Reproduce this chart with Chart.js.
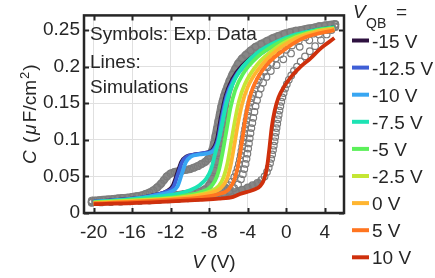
<!DOCTYPE html>
<html>
<head>
<meta charset="utf-8">
<script src="https://cdn.jsdelivr.net/npm/chart.js@4.4.1/dist/chart.umd.min.js"></script>
<style>
  html, body { margin: 0; padding: 0; background: #fff; }
  #wrap { width: 435px; height: 278px; }
</style>
</head>
<body>
<div id="wrap"><canvas id="cvChart"></canvas></div>
<script>
// tick values and labels
const xTicks = [-20, -16, -12, -8, -4, 0, 4];
const yTicks = [0, 0.05, 0.1, 0.15, 0.2, 0.25];
const yTickLabels = ['0', '0.05', '0.1', '0.15', '0.2', '0.25'];

// legend (V_QB values) and line colours
const vqbLabels = ['-15 V', '-12.5 V', '-10 V', '-7.5 V', '-5 V', '-2.5 V', '0 V', '5 V', '10 V'];
const vqbColors = ['#2e1140', '#3f5fd6', '#38a6f2', '#1de3b4', '#5cf05a', '#c4e634', '#ffb530', '#ff7520', '#cf300c'];

// simulations, [V, C]
const sim_m15 = [[-20,0.0155],[-17.5,0.018],[-15,0.021],[-13.5,0.025],[-12.4,0.03],[-11.8,0.037],[-11.3,0.055],[-10.9,0.07],[-10.4,0.077],[-9.5,0.08],[-8.5,0.082],[-7.7,0.086],[-7.2,0.1],[-6.8,0.13],[-6.3,0.16],[-5.6,0.183],[-4.6,0.201],[-2.2,0.225],[0,0.238],[2,0.247],[5,0.254]];
const sim_m12p5 = [[-20,0.0155],[-17.5,0.018],[-15,0.021],[-13.5,0.025],[-12.3,0.03],[-11.7,0.036],[-11.2,0.055],[-10.8,0.07],[-10.3,0.077],[-9.5,0.08],[-8.5,0.082],[-7.6,0.086],[-7.1,0.1],[-6.7,0.13],[-6.2,0.16],[-5.5,0.182],[-4.5,0.2],[-2,0.224],[0,0.237],[2,0.247],[5,0.253]];
const sim_m10 = [[-20,0.0155],[-17,0.018],[-15,0.021],[-13.2,0.025],[-12,0.029],[-11.3,0.036],[-10.8,0.055],[-10.4,0.07],[-9.9,0.077],[-9,0.08],[-8,0.082],[-7.4,0.087],[-7.0,0.1],[-6.6,0.13],[-6.1,0.16],[-5.4,0.182],[-4.4,0.2],[-2,0.223],[0,0.236],[2,0.246],[5,0.253]];
const sim_m7p5 = [[-20,0.015],[-16,0.019],[-13,0.023],[-11,0.027],[-10,0.031],[-9,0.038],[-8.3,0.047],[-7.8,0.06],[-7.4,0.08],[-7.0,0.1],[-6.6,0.125],[-6.2,0.15],[-5.6,0.175],[-4.8,0.195],[-3,0.219],[-1,0.234],[1,0.244],[3,0.25],[5,0.254]];
const sim_m5 = [[-20,0.0145],[-16,0.0175],[-12,0.021],[-10,0.025],[-9,0.028],[-8,0.034],[-7.4,0.044],[-7,0.058],[-6.6,0.083],[-6.2,0.113],[-5.8,0.143],[-5.3,0.168],[-4.5,0.19],[-3,0.213],[-1,0.231],[1,0.242],[3,0.249],[5,0.253]];
const sim_m2p5 = [[-20,0.014],[-16,0.017],[-12,0.02],[-10,0.023],[-8,0.029],[-7,0.037],[-6.5,0.049],[-6.1,0.068],[-5.7,0.098],[-5.3,0.128],[-4.9,0.153],[-4.3,0.176],[-3,0.203],[-1,0.226],[1,0.24],[3,0.248],[5,0.252]];
const sim_0 = [[-20,0.0135],[-16,0.016],[-12,0.019],[-10,0.022],[-8,0.027],[-6.8,0.034],[-6.2,0.045],[-5.8,0.063],[-5.4,0.092],[-5.0,0.123],[-4.6,0.148],[-4.0,0.172],[-2.8,0.198],[-1,0.222],[1,0.238],[3,0.247],[5,0.252]];
const sim_5 = [[-20,0.013],[-16,0.015],[-12,0.018],[-9,0.021],[-7,0.026],[-6,0.032],[-5.4,0.045],[-5,0.065],[-4.6,0.097],[-4.2,0.132],[-3.7,0.162],[-3,0.184],[-2,0.203],[0,0.225],[2,0.24],[5,0.25]];
const sim_10 = [[-20,0.012],[-16,0.0135],[-12,0.016],[-9,0.018],[-7,0.0195],[-5.5,0.022],[-4.8,0.026],[-4,0.029],[-3.3,0.032],[-2.7,0.037],[-2.3,0.046],[-2.0,0.062],[-1.75,0.088],[-1.5,0.118],[-1.2,0.14],[-0.8,0.158],[-0.2,0.173],[0.5,0.186],[1.5,0.2],[2.5,0.211],[3.5,0.224],[5,0.239]];
const simSeries = [sim_m15, sim_m12p5, sim_m10, sim_m7p5, sim_m5, sim_m2p5, sim_0, sim_5, sim_10];

// experimental data (symbols), [V, C]
const exp_a = [[-20.2,0.017],[-19.8,0.017],[-19.4,0.0175],[-19,0.018],[-18.5,0.0185],[-18,0.019],[-17.5,0.02],[-17,0.0205],[-16.5,0.021],[-16,0.022],[-15.5,0.023],[-15,0.024],[-14.6,0.026],[-14.2,0.028],[-13.8,0.031],[-13.4,0.035],[-13.0,0.04],[-12.7,0.045],[-12.4,0.05],[-12.0,0.054],[-11.6,0.056],[-11.2,0.057],[-10.8,0.058],[-10.4,0.059],[-10.0,0.06],[-9.6,0.062],[-9.2,0.064],[-8.8,0.067],[-8.4,0.07],[-8.1,0.074],[-7.9,0.078],[-7.7,0.085],[-7.5,0.095],[-7.35,0.105],[-7.2,0.115],[-7.05,0.125],[-6.9,0.135],[-6.75,0.145],[-6.6,0.153],[-6.45,0.16],[-6.3,0.166],[-6.1,0.173],[-5.9,0.18],[-5.6,0.189],[-5.3,0.197],[-5.0,0.204],[-4.6,0.211],[-4.2,0.216],[-3.7,0.222],[-3.2,0.227],[-2.6,0.231],[-2,0.235],[-1.4,0.239],[-0.8,0.242],[-0.2,0.245],[0.4,0.247],[1,0.249],[1.6,0.25],[2.2,0.252],[2.8,0.253],[3.4,0.255],[4,0.256],[4.6,0.257],[5.1,0.258]];
const exp_b = [[-20.2,0.0155],[-19.4,0.016],[-18.6,0.0165],[-17.8,0.017],[-17,0.0178],[-16.2,0.0185],[-15.4,0.0195],[-14.6,0.0205],[-13.8,0.0215],[-13,0.0225],[-12.2,0.0235],[-11.4,0.0245],[-10.6,0.026],[-9.8,0.0275],[-9.1,0.029],[-8.5,0.032],[-8,0.038],[-7.7,0.047],[-7.45,0.058],[-7.25,0.07],[-7.1,0.082],[-6.95,0.095],[-6.8,0.108],[-6.65,0.121],[-6.5,0.134],[-6.35,0.147],[-6.15,0.16],[-5.9,0.172],[-5.6,0.183],[-5.2,0.194],[-4.7,0.204],[-4.1,0.213],[-3.4,0.221],[-2.6,0.228],[-1.7,0.235],[-0.8,0.24],[0.2,0.245],[1.3,0.249],[2.4,0.252],[3.5,0.255],[4.4,0.257],[5.1,0.258]];
const exp_c = [[-20.2,0.0155],[-19.6,0.016],[-19,0.0165],[-18.3,0.017],[-17.6,0.0175],[-16.9,0.018],[-16.2,0.0185],[-15.5,0.019],[-14.8,0.0195],[-14.1,0.02],[-13.4,0.0205],[-12.7,0.021],[-12,0.0215],[-11.3,0.022],[-10.6,0.023],[-9.9,0.024],[-9.2,0.025],[-8.5,0.026],[-7.8,0.0275],[-7.2,0.029],[-6.7,0.031],[-6.3,0.034],[-5.95,0.038],[-5.65,0.043],[-5.4,0.049],[-5.2,0.055],[-5.05,0.061],[-4.92,0.067],[-4.82,0.073],[-4.73,0.079],[-4.65,0.085],[-4.57,0.091],[-4.5,0.097],[-4.43,0.103],[-4.36,0.109],[-4.28,0.115],[-4.2,0.121],[-4.12,0.127],[-4.03,0.133],[-3.94,0.139],[-3.84,0.145],[-3.73,0.151],[-3.6,0.157],[-3.45,0.163],[-3.28,0.169],[-3.08,0.175],[-2.85,0.181],[-2.6,0.187],[-2.3,0.193],[-1.95,0.199],[-1.55,0.205],[-1.1,0.211],[-0.6,0.217],[0,0.223],[0.6,0.229],[1.3,0.235],[2,0.24],[2.8,0.245],[3.6,0.25],[4.4,0.254],[5.1,0.257]];
const exp_d = [[-20.2,0.0145],[-19.2,0.015],[-18.2,0.0155],[-17.2,0.016],[-16.2,0.0165],[-15.2,0.017],[-14.2,0.0175],[-13.2,0.018],[-12.2,0.019],[-11.2,0.02],[-10.2,0.021],[-9.2,0.022],[-8.2,0.023],[-7.3,0.025],[-6.5,0.027],[-5.9,0.03],[-5.4,0.034],[-5.0,0.039],[-4.7,0.046],[-4.5,0.053],[-4.35,0.06],[-4.22,0.067],[-4.12,0.074],[-4.03,0.081],[-3.95,0.088],[-3.87,0.095],[-3.79,0.102],[-3.71,0.109],[-3.62,0.116],[-3.52,0.123],[-3.42,0.13],[-3.3,0.138],[-3.18,0.146],[-3.03,0.154],[-2.85,0.162],[-2.65,0.17],[-2.4,0.178],[-2.05,0.186],[-1.6,0.194],[-1.0,0.202],[-0.3,0.21],[0.5,0.218],[1.4,0.227],[2.4,0.236],[3.4,0.244],[4.3,0.25],[5.1,0.255]];
const exp_e = [[-20.2,0.014],[-19.2,0.0145],[-18.2,0.015],[-17.2,0.0155],[-16.2,0.016],[-15.2,0.0165],[-14.2,0.017],[-13.2,0.0178],[-12.2,0.0185],[-11.2,0.019],[-10.2,0.02],[-9.2,0.021],[-8.2,0.022],[-7.3,0.023],[-6.5,0.025],[-5.8,0.027],[-5.2,0.029],[-4.6,0.032],[-4.0,0.035],[-3.5,0.038],[-3.0,0.041],[-2.6,0.045],[-2.25,0.05],[-2.0,0.056],[-1.82,0.062],[-1.68,0.068],[-1.56,0.074],[-1.46,0.08],[-1.37,0.086],[-1.29,0.092],[-1.21,0.098],[-1.14,0.104],[-1.07,0.11],[-1.0,0.116],[-0.93,0.122],[-0.86,0.128],[-0.78,0.134],[-0.7,0.14],[-0.61,0.146],[-0.51,0.152],[-0.4,0.158],[-0.27,0.164],[-0.12,0.17],[0.06,0.176],[0.27,0.182],[0.52,0.188],[0.8,0.194],[1.12,0.2],[1.5,0.207],[1.95,0.214],[2.45,0.221],[3.0,0.228],[3.6,0.236],[4.2,0.244],[4.7,0.25],[5.1,0.254]];
const expSeries = [exp_a, exp_b, exp_c, exp_d, exp_e];

const FONT = '"Liberation Sans", Arial, Helvetica, sans-serif';
const INK = '#262626';
const GRAY = '#878787';

const toXY = arr => arr.map(p => ({ x: p[0], y: p[1] }));

const datasets = [];
simSeries.forEach((s, i) => {
  datasets.push({
    label: vqbLabels[i],
    data: toXY(s),
    borderColor: vqbColors[i],
    borderWidth: 3.8,
    pointRadius: 0,
    cubicInterpolationMode: 'monotone',
    fill: false,
    order: simSeries.length - i
  });
});
expSeries.forEach((s, i) => {
  const solid = i < 2; // the two left curves overlap into one solid band
  datasets.push({
    label: 'exp' + i,
    data: toXY(s),
    borderColor: GRAY,
    borderWidth: solid ? 8 : 6,
    cubicInterpolationMode: 'monotone',
    segment: solid ? undefined : {
      borderColor: c => Math.abs(c.p1.parsed.y - c.p0.parsed.y) > 0.0045 ? 'rgba(0,0,0,0)' : GRAY
    },
    pointStyle: 'circle',
    pointRadius: 3.3,
    pointBorderWidth: 1.2,
    pointBorderColor: '#7c7c7c',
    pointBackgroundColor: 'rgba(0,0,0,0)',
    order: 20
  });
});

function drawRuns(ctx, runs, x, y) {
  let cx = x;
  runs.forEach(r => {
    ctx.font = r.font;
    ctx.fillText(r.t, cx, y - (r.dy || 0));
    cx += ctx.measureText(r.t).width + (r.gap || 0);
  });
  return cx - x;
}

const framePlugin = {
  id: 'frame',
  afterDatasetsDraw(chart) {
    const { ctx, chartArea: a, scales } = chart;
    ctx.save();
    ctx.strokeStyle = INK;
    ctx.lineWidth = 2;
    ctx.beginPath();
    xTicks.forEach(v => {
      const px = Math.round(scales.x.getPixelForValue(v)) + 0.5;
      ctx.moveTo(px, a.bottom); ctx.lineTo(px, a.bottom - 5);
      ctx.moveTo(px, a.top); ctx.lineTo(px, a.top + 5);
    });
    yTicks.forEach(v => {
      const py = Math.round(scales.y.getPixelForValue(v)) + 0.5;
      ctx.moveTo(a.left, py); ctx.lineTo(a.left + 5, py);
      ctx.moveTo(a.right, py); ctx.lineTo(a.right - 5, py);
    });
    ctx.stroke();
    ctx.lineWidth = 2.5;
    ctx.strokeRect(a.left, a.top, a.right - a.left, a.bottom - a.top);
    ctx.restore();
  },
  afterDraw(chart) {
    const { ctx, chartArea: a } = chart;
    const reg = '19px ' + FONT, ita = 'italic 19px ' + FONT;
    ctx.save();
    ctx.fillStyle = INK;
    ctx.textBaseline = 'alphabetic';

    // note inside the axes
    ctx.font = reg;
    ctx.fillText('Symbols: Exp. Data', a.left + 6, 40);
    ctx.fillText('Lines:', a.left + 6, 68);
    ctx.fillText('Simulations', a.left + 6, 93);

    // x axis title
    const xRuns = [{ t: 'V', font: ita }, { t: ' (V)', font: reg }];
    let w = 0;
    xRuns.forEach(r => { ctx.font = r.font; w += ctx.measureText(r.t).width; });
    drawRuns(ctx, xRuns, (a.left + a.right) / 2 - w / 2, 268);

    // y axis title
    const yRuns = [
      { t: 'C', font: ita, gap: 2 }, { t: ' (', font: reg, gap: 2 }, { t: 'μ', font: ita, gap: 2 },
      { t: 'F/cm', font: reg, gap: 1 }, { t: '2', font: '13px ' + FONT, dy: 7, gap: 1 }, { t: ')', font: reg }
    ];
    w = 0;
    yRuns.forEach(r => { ctx.font = r.font; w += ctx.measureText(r.t).width + (r.gap || 0); });
    ctx.save();
    ctx.translate(36, (a.top + a.bottom) / 2);
    ctx.rotate(-Math.PI / 2);
    drawRuns(ctx, yRuns, -w / 2, 0);
    ctx.restore();

    // legend
    const lx = a.right + 8;
    drawRuns(ctx, [{ t: 'V', font: ita }], lx + 1, 18);
    ctx.font = '14px ' + FONT;
    ctx.fillText('QB', lx + 14, 28);
    ctx.font = reg;
    ctx.fillText('=', lx + 44, 18);
    vqbLabels.forEach((lab, i) => {
      const cy = 40.5 + i * 27.1;
      ctx.strokeStyle = vqbColors[i];
      ctx.lineWidth = 4;
      ctx.beginPath();
      ctx.moveTo(lx, cy); ctx.lineTo(lx + 17, cy);
      ctx.stroke();
      ctx.fillStyle = INK;
      ctx.font = reg;
      ctx.fillText(lab, lx + 20, cy + 7);
    });
    ctx.restore();
  }
};

new Chart(document.getElementById('cvChart'), {
  type: 'line',
  data: { datasets: datasets },
  options: {
    responsive: true,
    maintainAspectRatio: false,
    animation: false,
    devicePixelRatio: 1,
    layout: { padding: { left: 0, top: 14, right: 91, bottom: 0 } },
    plugins: { legend: { display: false }, tooltip: { enabled: false } },
    scales: {
      x: {
        type: 'linear',
        min: -21,
        max: 6,
        afterBuildTicks: s => { s.ticks = xTicks.map(v => ({ value: v })); },
        afterFit: s => { s.height = 65; },
        ticks: {
          autoSkip: false, maxRotation: 0, padding: 8, color: INK,
          font: { family: FONT, size: 19 },
          callback: v => String(v)
        },
        grid: { color: '#e0e0e0', lineWidth: 1, drawTicks: false },
        border: { display: false }
      },
      y: {
        type: 'linear',
        min: 0,
        max: 0.27,
        afterBuildTicks: s => { s.ticks = yTicks.map(v => ({ value: v })); },
        afterFit: s => { s.width = 84; },
        ticks: {
          autoSkip: false, padding: 4, color: INK,
          font: { family: FONT, size: 19 },
          callback: (v, i) => yTickLabels[i]
        },
        grid: { color: '#e0e0e0', lineWidth: 1, drawTicks: false },
        border: { display: false }
      }
    }
  },
  plugins: [framePlugin]
});
</script>
</body>
</html>
